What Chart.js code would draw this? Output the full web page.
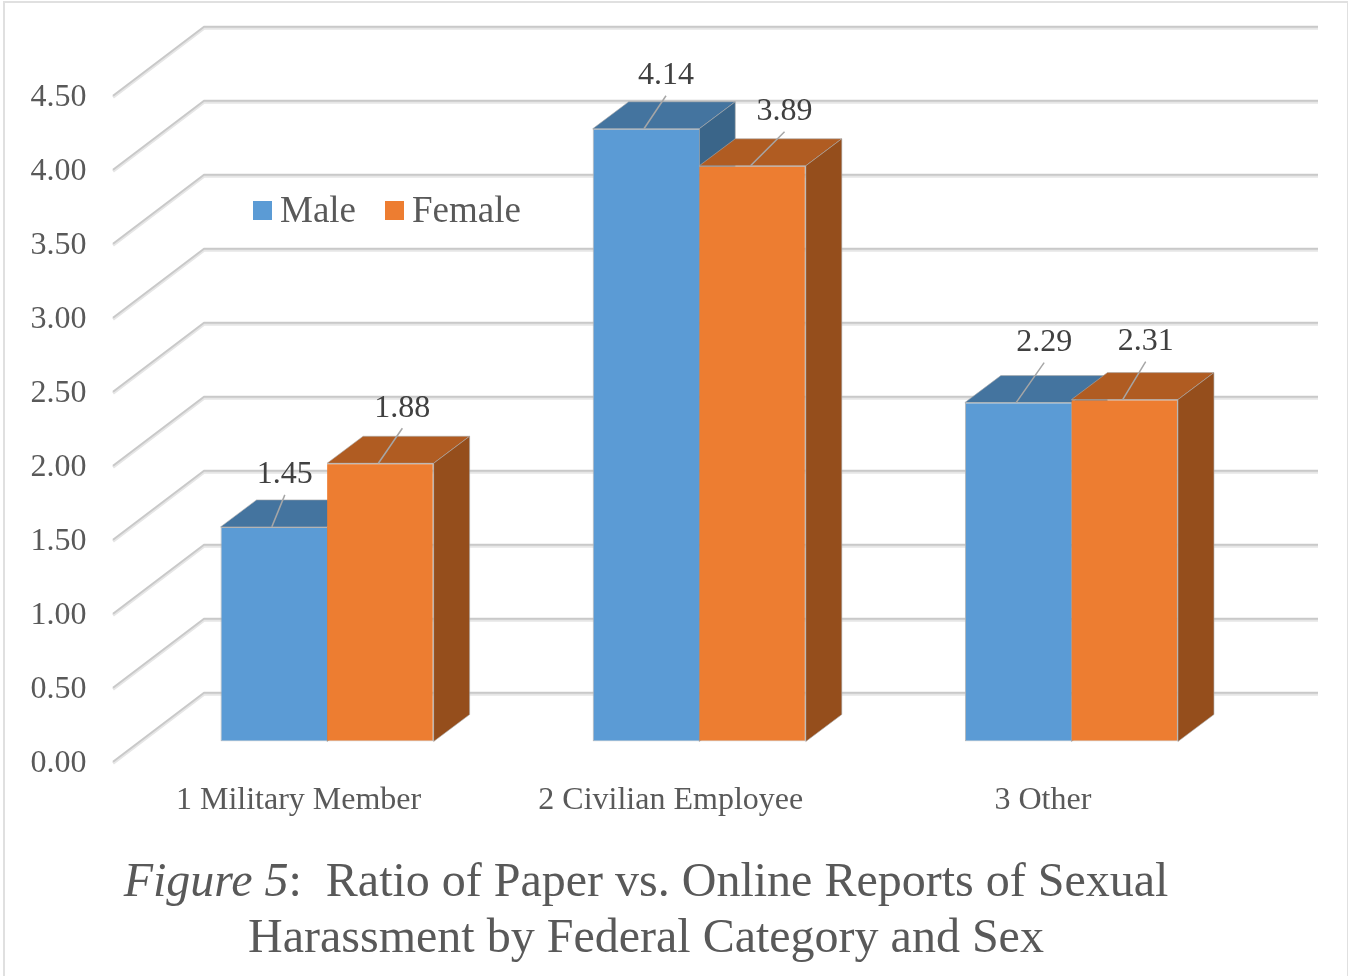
<!DOCTYPE html>
<html lang="en">

<head>
    <meta charset="UTF-8">
    <title>Figure 5</title>
    <script src="https://cdn.jsdelivr.net/npm/chart.js"></script>
    <style>
        body {
            margin: 0;
            background: #fff;
        }

        .frame {
            position: absolute;
            left: 3px;
            top: 1px;
            width: 1342px;
            height: 975px;
            border: solid #e0e0e0;
            border-width: 2px 2px 0 2px;
        }

        canvas {
            position: absolute;
            left: 0;
            top: 0;
        }

        #caption {
            position: absolute;
            left: 0;
            top: 852px;
            width: 1292px;
            text-align: center;
            white-space: pre;
            font-family: "Liberation Serif", serif;
            font-size: 48px;
            line-height: 56px;
            color: #595959;
        }
    </style>
</head>

<body>
    <div class="frame"></div>
    <canvas id="myChart" width="1348" height="976"></canvas>
    <div id="caption"><i>Figure 5</i>:  Ratio of Paper vs. Online Reports of Sexual
Harassment by Federal Category and Sex</div>

    <script>
        const categories = ["1 Military Member", "2 Civilian Employee", "3 Other"];
        const maleValues = [1.45, 4.14, 2.29];
        const femaleValues = [1.88, 3.89, 2.31];

        const serif = "Liberation Serif";

        // per-bar leader line tips, relative to the top of the bar
        const leaderTips = [
            [[13, -32], [22, -33], [28, -40]],
            [[24, -35], [34, -34], [23, -38]]
        ];
        const faceColors = [
            { top: "#44749f", side: "#3a6589" },
            { top: "#b05c22", side: "#954e1c" }
        ];

        const depthX = 36;
        const depthY = -27;

        function polygon(ctx, points, color) {
            ctx.fillStyle = color;
            ctx.strokeStyle = "rgba(170,170,170,0.6)";
            ctx.lineWidth = 1;
            ctx.beginPath();
            points.forEach((p, i) => i ? ctx.lineTo(p[0], p[1]) : ctx.moveTo(p[0], p[1]));
            ctx.closePath();
            ctx.fill();
            ctx.stroke();
        }

        function wallLine(ctx, y, color, width) {
            ctx.strokeStyle = color;
            ctx.lineWidth = width;
            ctx.beginPath();
            ctx.moveTo(113, y + 21);
            ctx.lineTo(204, y - 48);
            ctx.lineTo(1318, y - 48);
            ctx.stroke();
        }

        // side wall + back wall gridlines, then the top and side faces of the bars
        const walls = {
            id: "walls",
            beforeDatasetsDraw(chart) {
                const ctx = chart.ctx;
                const yScale = chart.scales.y;
                ctx.save();
                ctx.lineJoin = "round";
                yScale.ticks.forEach(t => {
                    const y = yScale.getPixelForValue(t.value);
                    wallLine(ctx, y + 0.7, "#e6e6e6", 3);
                    wallLine(ctx, y - 0.8, "#c9c9c9", 2);
                });
                chart.data.datasets.forEach((ds, i) => {
                    chart.getDatasetMeta(i).data.forEach(bar => {
                        const l = bar.x - bar.width / 2;
                        const r = bar.x + bar.width / 2;
                        polygon(ctx, [[l, bar.y], [l + depthX, bar.y + depthY], [r + depthX, bar.y + depthY], [r, bar.y]], faceColors[i].top);
                        polygon(ctx, [[r, bar.y], [r + depthX, bar.y + depthY], [r + depthX, bar.base + depthY], [r, bar.base]], faceColors[i].side);
                    });
                });
                ctx.restore();
            },
            afterDatasetsDraw(chart) {
                const ctx = chart.ctx;
                ctx.save();
                ctx.font = "32px '" + serif + "'";
                ctx.textAlign = "center";
                ctx.textBaseline = "middle";
                chart.data.datasets.forEach((ds, i) => {
                    chart.getDatasetMeta(i).data.forEach((bar, j) => {
                        const footX = bar.x - 2;
                        const tipX = footX + leaderTips[i][j][0];
                        const tipY = bar.y + leaderTips[i][j][1];
                        ctx.strokeStyle = "#a6a6a6";
                        ctx.lineWidth = 1.5;
                        ctx.beginPath();
                        ctx.moveTo(footX, bar.y);
                        ctx.lineTo(tipX, tipY);
                        ctx.stroke();
                        ctx.fillStyle = "#404040";
                        ctx.fillText(ds.data[j].toFixed(2), tipX, tipY - 20);
                    });
                });
                ctx.restore();
            }
        };

        // legend sits inside the plot, with a tighter swatch gap than the built-in one
        const insideLegend = {
            id: "insideLegend",
            afterDraw(chart) {
                const ctx = chart.ctx;
                const slots = [253, 385];
                ctx.save();
                ctx.font = "37px '" + serif + "'";
                ctx.textBaseline = "alphabetic";
                chart.data.datasets.forEach((ds, i) => {
                    ctx.fillStyle = ds.backgroundColor;
                    ctx.fillRect(slots[i], 201, 19, 19);
                    ctx.fillStyle = "#595959";
                    ctx.fillText(ds.label, slots[i] + 27, 222);
                });
                ctx.restore();
            }
        };

        new Chart(document.getElementById("myChart"), {
            type: "bar",
            data: {
                labels: categories,
                datasets: [
                    {
                        label: "Male",
                        data: maleValues,
                        backgroundColor: "#5b9bd5",
                        borderWidth: { top: 1, left: 1, right: 0, bottom: 1 }
                    },
                    {
                        label: "Female",
                        data: femaleValues,
                        backgroundColor: "#ed7d31",
                        borderWidth: { top: 1, left: 0, right: 1, bottom: 1 }
                    }
                ]
            },
            options: {
                responsive: false,
                animation: false,
                layout: { padding: { top: 75.5, right: 90.5, left: 0, bottom: 0 } },
                datasets: {
                    bar: {
                        barPercentage: 1,
                        categoryPercentage: 0.5726,
                        borderSkipped: false,
                        borderColor: "#b4b4b4"
                    }
                },
                plugins: {
                    legend: { display: false },
                    tooltip: { enabled: false }
                },
                scales: {
                    x: {
                        grid: { display: false },
                        border: { display: false },
                        afterFit(axis) { axis.height = 234.5; },
                        ticks: {
                            autoSkip: false,
                            maxRotation: 0,
                            padding: 32,
                            labelOffset: -28.5,
                            color: "#595959",
                            font: { family: serif, size: 32 }
                        }
                    },
                    y: {
                        min: 0,
                        max: 4.5,
                        grid: { display: false },
                        border: { display: false },
                        afterFit(axis) { axis.width = 141; },
                        ticks: {
                            stepSize: 0.5,
                            padding: 46.5,
                            labelOffset: 22.5,
                            color: "#595959",
                            font: { family: serif, size: 32 },
                            callback: v => v.toFixed(2)
                        }
                    }
                }
            },
            plugins: [walls, insideLegend]
        });
    </script>
</body>

</html>
